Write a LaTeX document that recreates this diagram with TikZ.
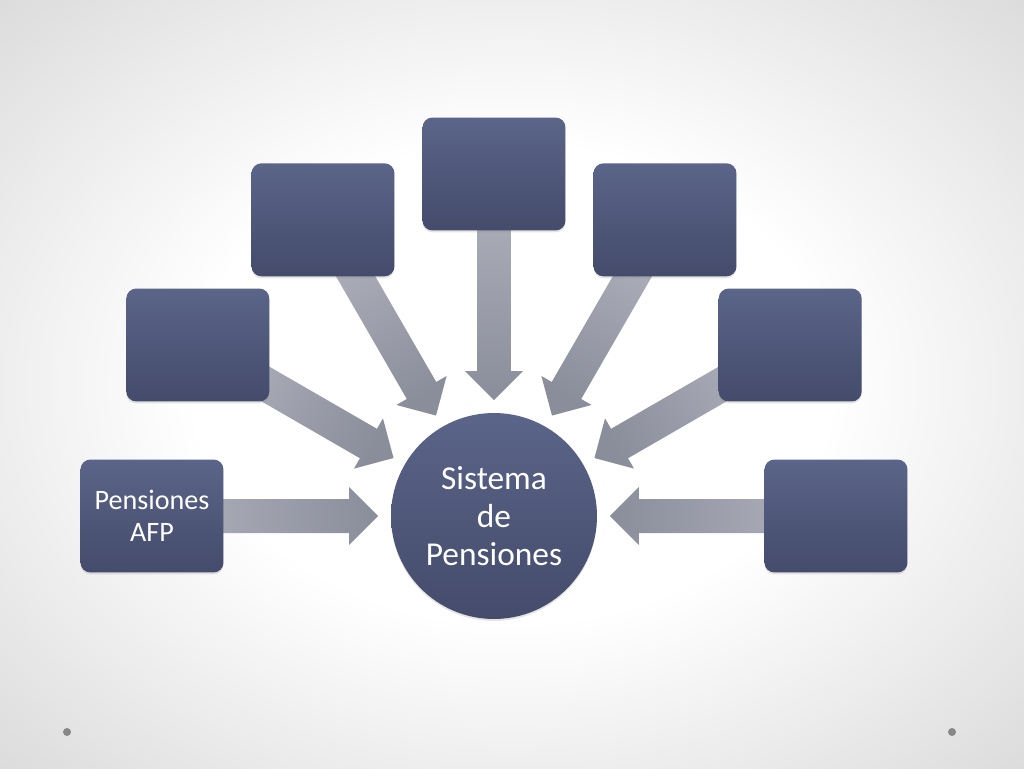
\documentclass[tikz,border=0pt]{standalone}
\usepackage{fontspec}
\setmainfont{Carlito}
\usetikzlibrary{calc}
\usetikzlibrary{shadows}
\usetikzlibrary{backgrounds}
\definecolor{cajaarriba}{RGB}{91,101,137}
\definecolor{cajaabajo}{RGB}{68,75,107}
\definecolor{flechaclara}{RGB}{170,172,184}
\definecolor{flechaoscura}{RGB}{138,141,154}
\definecolor{fondo}{RGB}{220,220,220}
\definecolor{punto}{RGB}{135,135,135}
\pgfdeclareradialshading{fondoradial}{\pgfpoint{0bp}{0bp}}{color(0bp)=(white); color(11bp)=(white); color(25bp)=(fondo); color(50bp)=(fondo)}
\tikzset{caja/.style={rectangle,rounded corners=0.2cm,minimum width=2.86cm,minimum height=2.26cm,top color=cajaarriba,bottom color=cajaabajo,text=white,align=center,font=\fontsize{16}{18.5}\selectfont,drop shadow={shadow xshift=0pt,shadow yshift=-0.04cm,opacity=0.2}}}
\tikzset{circulo/.style={circle,inner sep=0,minimum size=4.12cm,top color=cajaarriba,bottom color=cajaabajo,text=white,align=center,font=\fontsize{19}{21.5}\selectfont,drop shadow={shadow xshift=0pt,shadow yshift=-0.04cm,opacity=0.2}}}
\tikzset{flecha/.style={top color=flechaclara,bottom color=flechaoscura}}
% flecha de #1 hacia el centro, sombreado con angulo #2
\newcommand\flecha[2]{
  \coordinate (#1p) at ($(sis)!2.32cm!(#1)$);
  \coordinate (#1h) at ($(sis)!2.9cm!(#1)$);
  \coordinate (#1f) at ($(sis)!6cm!(#1)$);
  \shade[flecha,shading angle=#2] (#1p) -- ($(#1h)!0.58cm!90:(#1)$) -- ($(#1h)!0.34cm!90:(#1)$) -- ($(#1f)!0.34cm!90:(#1)$)
    -- ($(#1f)!0.34cm!-90:(#1)$) -- ($(#1h)!0.34cm!-90:(#1)$) -- ($(#1h)!0.58cm!-90:(#1)$) -- cycle;
}

\begin{document}
\begin{tikzpicture}[x=0.02cm,y=0.02cm]
  \useasboundingbox (-494,-252) rectangle (530,516);

  %centro
  \node[circulo] (sis) at (0,0) {Sistema\\de\\Pensiones};

  %cajas
  \node[caja] (afp) at (180:342) {Pensiones\\AFP};
  \node[caja] (c150) at (150:342) {};
  \node[caja] (c120) at (120:342) {};
  \node[caja] (c90) at (90:342) {};
  \node[caja] (c60) at (60:342) {};
  \node[caja] (c30) at (30:342) {};
  \node[caja] (c0) at (0:342) {};

  %flechas
  \begin{pgfonlayer}{background}
    \shade[shading=fondoradial] (-704,-409) rectangle (740,673);
    \flecha{afp}{90}
    \flecha{c150}{60}
    \flecha{c120}{30}
    \flecha{c90}{0}
    \flecha{c60}{-30}
    \flecha{c30}{-60}
    \flecha{c0}{-90}
  \end{pgfonlayer}

  %puntos
  \fill[punto] (-427,-216) circle [radius=0.08cm];
  \fill[punto] (458,-216) circle [radius=0.08cm];

\end{tikzpicture}
\end{document}
